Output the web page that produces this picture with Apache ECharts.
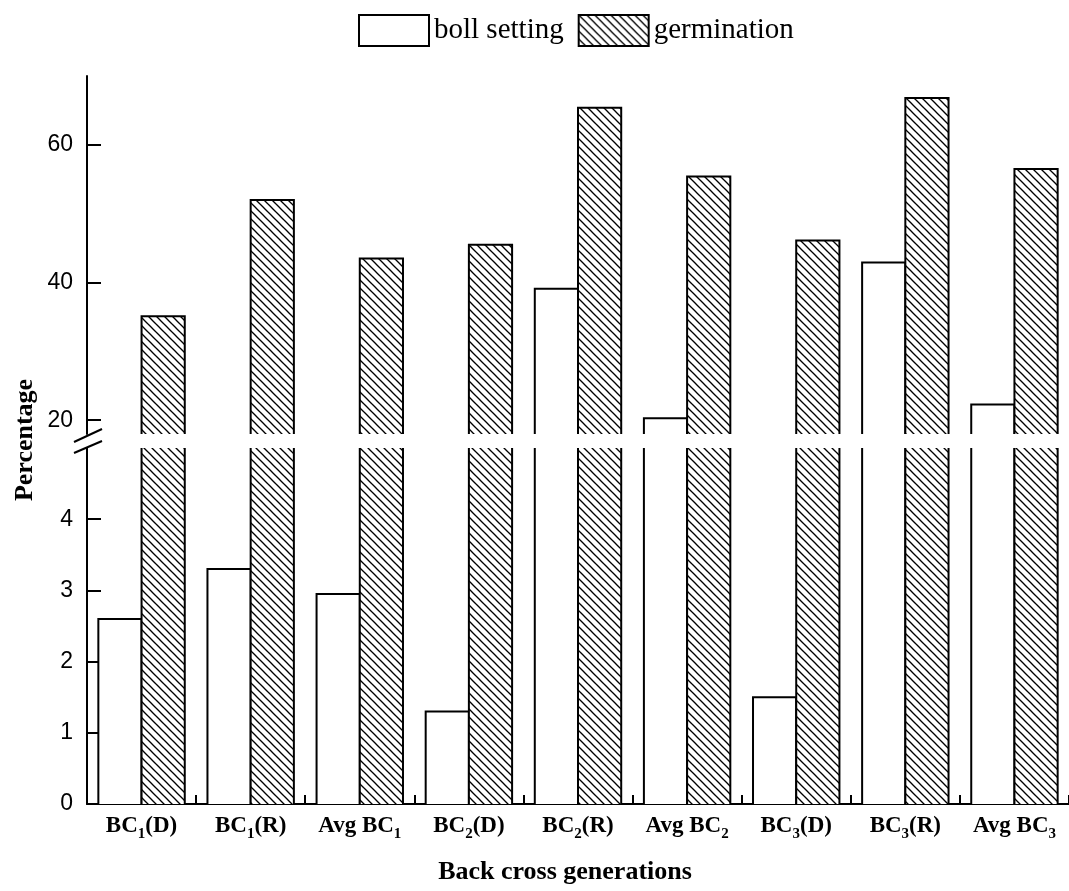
<!DOCTYPE html>
<html>
<head>
    <meta charset="utf-8">
    <title>Back cross generations</title>
    <style>
        html, body { margin: 0; padding: 0; background: #fff; }
        #main { width: 1069px; height: 891px; }
    </style>
</head>
<body>
    <div id="main"></div>
    <script src="https://cdn.jsdelivr.net/npm/echarts@6/dist/echarts.min.js"></script>
    <script>
        // data
        var categories = ['BC1(D)', 'BC1(R)', 'Avg BC1', 'BC2(D)', 'BC2(R)', 'Avg BC2', 'BC3(D)', 'BC3(R)', 'Avg BC3'];
        var bollSetting = [2.6, 3.3, 2.95, 1.3, 39.1, 20.3, 1.5, 42.9, 22.3];
        var germination = [35.1, 52.0, 43.5, 45.5, 65.4, 55.4, 46.1, 66.8, 56.5];
        var upperTicks = [20, 40, 60];
        var lowerTicks = [0, 1, 2, 3, 4];

        var serif = '"Liberation Serif", "Times New Roman", serif';
        var sans = '"Liberation Sans", Arial, sans-serif';

        // hatch pattern for germination
        var hatch = document.createElement('canvas');
        var s = 8;
        hatch.width = s; hatch.height = s;
        var ctx = hatch.getContext('2d');
        ctx.fillStyle = '#fff';
        ctx.fillRect(0, 0, s, s);
        ctx.strokeStyle = '#000';
        ctx.lineWidth = 1.3;
        for (var k = -1; k <= 1; k++) {
            ctx.beginPath();
            ctx.moveTo(-1, k * s - 1);
            ctx.lineTo(s + 1, s + k * s + 1);
            ctx.stroke();
        }
        var hatchFill = { image: hatch, repeat: 'repeat' };

        // bar drawn open at the clipped side so the axis break stays clean
        function barRenderer(side, fill) {
            return function (params, api) {
                var cs = params.coordSys;
                var i = api.value(0), v = api.value(1);
                var top = api.coord([i, v]);
                var base = api.coord([i, 0]);
                var bw = api.size([1, 0])[0] * 0.396;
                var x0 = side === 0 ? top[0] - bw : top[0];
                var x1 = x0 + bw;
                var yTop = Math.max(top[1], cs.y);
                var yBot = Math.min(base[1], cs.y + cs.height);
                if (yTop >= yBot) return;
                var pts = top[1] >= cs.y
                    ? [[x0, yBot], [x0, yTop], [x1, yTop], [x1, yBot]]
                    : null;
                var children = [{
                    type: 'rect',
                    shape: { x: x0, y: yTop, width: bw, height: yBot - yTop },
                    style: { fill: fill, stroke: null }
                }];
                if (pts) {
                    children.push({ type: 'polyline', shape: { points: pts }, style: { fill: null, stroke: '#000', lineWidth: 2 } });
                } else {
                    children.push({ type: 'line', shape: { x1: x0, y1: yTop, x2: x0, y2: yBot }, style: { stroke: '#000', lineWidth: 2 } });
                    children.push({ type: 'line', shape: { x1: x1, y1: yTop, x2: x1, y2: yBot }, style: { stroke: '#000', lineWidth: 2 } });
                }
                return { type: 'group', children: children };
            };
        }

        function pairs(arr) {
            return arr.map(function (v, i) { return [i, v]; });
        }

        var axisLineStyle = { lineStyle: { color: '#000', width: 2 } };

        var myChart = echarts.init(document.getElementById('main'));
        var option = {
            animation: false,
            backgroundColor: '#fff',
            legend: {
                left: 353,
                top: 9,
                icon: 'rect',
                itemWidth: 70,
                itemHeight: 31,
                itemGap: 14,
                textStyle: { fontFamily: serif, fontSize: 29, color: '#000' },
                data: [
                    { name: 'boll setting', itemStyle: { color: '#fff', borderColor: '#000', borderWidth: 2 } },
                    { name: 'germination', itemStyle: { color: hatchFill, borderColor: '#000', borderWidth: 2 } }
                ]
            },
            grid: [
                { left: 87, width: 987, top: 76, height: 358 },
                { left: 87, width: 987, top: 448, height: 356 }
            ],
            xAxis: [
                { type: 'category', gridIndex: 0, data: categories, show: false },
                {
                    type: 'category', gridIndex: 1, data: categories,
                    boundaryGap: true,
                    axisLine: axisLineStyle,
                    axisTick: { show: true, inside: true, length: 9, interval: 0, alignWithLabel: false, lineStyle: { color: '#000', width: 2 } },
                    axisLabel: {
                        interval: 0,
                        margin: 6,
                        color: '#000',
                        fontFamily: serif,
                        fontWeight: 'bold',
                        fontSize: 23,
                        lineHeight: 32,
                        formatter: function (v) { return v.replace(/BC(\d)/, 'BC{s|$1}'); },
                        rich: {
                            s: { fontFamily: serif, fontWeight: 'bold', fontSize: 15, lineHeight: 12, verticalAlign: 'bottom', color: '#000' }
                        }
                    }
                }
            ],
            yAxis: [
                {
                    type: 'value', gridIndex: 0, min: 18, max: 70,
                    axisLine: { show: true, lineStyle: { color: '#000', width: 2 } },
                    axisTick: { show: true, inside: true, length: 14, customValues: upperTicks, lineStyle: { color: '#000', width: 2 } },
                    axisLabel: { margin: 14, color: '#000', fontFamily: sans, fontSize: 23, customValues: upperTicks },
                    splitLine: { show: false }
                },
                {
                    type: 'value', gridIndex: 1, min: 0, max: 5, interval: 1,
                    axisLine: { show: true, lineStyle: { color: '#000', width: 2 } },
                    axisTick: { show: true, inside: true, length: 14, customValues: lowerTicks, lineStyle: { color: '#000', width: 2 } },
                    axisLabel: { margin: 14, color: '#000', fontFamily: sans, fontSize: 23, customValues: lowerTicks },
                    splitLine: { show: false }
                }
            ],
            series: [
                { name: 'boll setting', type: 'custom', xAxisIndex: 0, yAxisIndex: 0, renderItem: barRenderer(0, '#fff'),
                  itemStyle: { color: '#fff', borderColor: '#000' }, encode: { x: 0, y: 1 }, data: pairs(bollSetting) },
                { name: 'germination', type: 'custom', xAxisIndex: 0, yAxisIndex: 0, renderItem: barRenderer(1, hatchFill),
                  itemStyle: { color: hatchFill, borderColor: '#000' }, encode: { x: 0, y: 1 }, data: pairs(germination) },
                { name: 'boll setting', type: 'custom', xAxisIndex: 1, yAxisIndex: 1, renderItem: barRenderer(0, '#fff'),
                  itemStyle: { color: '#fff', borderColor: '#000' }, encode: { x: 0, y: 1 }, data: pairs(bollSetting) },
                { name: 'germination', type: 'custom', xAxisIndex: 1, yAxisIndex: 1, renderItem: barRenderer(1, hatchFill),
                  itemStyle: { color: hatchFill, borderColor: '#000' }, encode: { x: 0, y: 1 }, data: pairs(germination) }
            ],
            graphic: [
                // axis break marks
                { type: 'line', shape: { x1: 74, y1: 442, x2: 102, y2: 429 }, style: { stroke: '#000', lineWidth: 2 } },
                { type: 'line', shape: { x1: 74, y1: 453, x2: 102, y2: 441 }, style: { stroke: '#000', lineWidth: 2 } },
                {
                    type: 'text', x: 25, y: 440, rotation: Math.PI / 2,
                    style: { text: 'Percentage', fontFamily: serif, fontWeight: 'bold', fontSize: 26, fill: '#000', align: 'center', verticalAlign: 'middle' }
                },
                {
                    type: 'text', x: 565, y: 872,
                    style: { text: 'Back cross generations', fontFamily: serif, fontWeight: 'bold', fontSize: 26, fill: '#000', align: 'center', verticalAlign: 'middle' }
                }
            ]
        };
        myChart.setOption(option);
    </script>
</body>
</html>
